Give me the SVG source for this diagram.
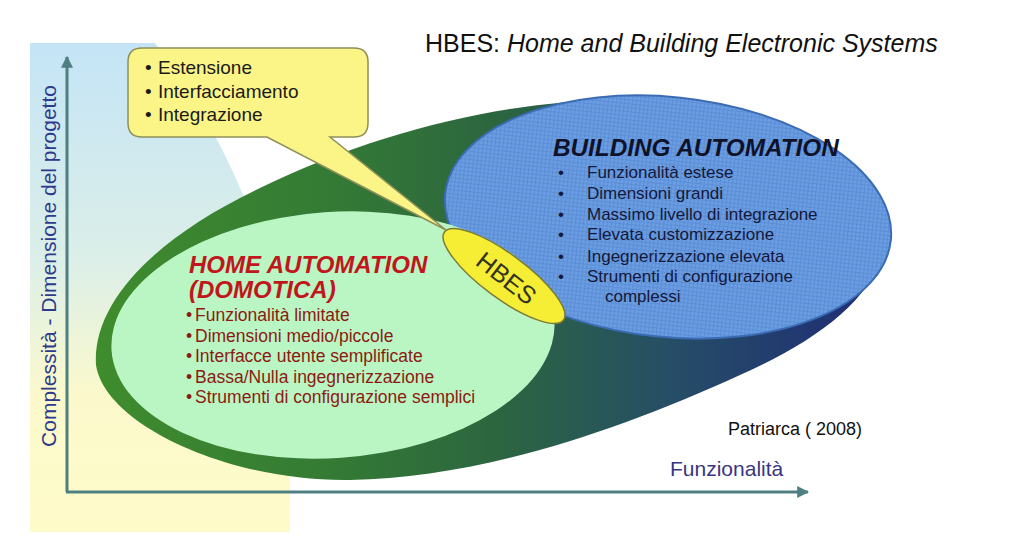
<svg xmlns="http://www.w3.org/2000/svg" width="1024" height="541" viewBox="0 0 1024 541">
<defs>
<style>
.sans{font-family:"Liberation Sans",Arial,sans-serif}
.ha{fill:#8c1a12;font-size:17.5px}
.ba{fill:#14183a;font-size:17px}
.co{fill:#1a1a1a;font-size:19px}
.axis{stroke:#4f7f80;stroke-width:3;fill:none}
</style>
<linearGradient id="panelGrad" x1="0" y1="43" x2="0" y2="532" gradientUnits="userSpaceOnUse">
<stop offset="0" stop-color="#c4e4f6"/>
<stop offset="0.45" stop-color="#dcefe8"/>
<stop offset="0.72" stop-color="#fbf9cc"/>
<stop offset="1" stop-color="#fffbc9"/>
</linearGradient>
<linearGradient id="outerGrad" x1="96" y1="0" x2="890" y2="0" gradientUnits="userSpaceOnUse">
<stop offset="0" stop-color="#3f8c2d"/>
<stop offset="0.3" stop-color="#347a35"/>
<stop offset="0.5" stop-color="#2c663f"/>
<stop offset="0.72" stop-color="#264e66"/>
<stop offset="1" stop-color="#1f2a78"/>
</linearGradient>
<pattern id="grid" width="4" height="4" patternUnits="userSpaceOnUse">
<rect width="4" height="4" fill="#6b9de2"/>
<path d="M0 0.5H4M0.5 0V4" stroke="#5c8ed6" stroke-width="1"/>
</pattern>
<marker id="arr" viewBox="0 0 10 10" refX="9" refY="5" markerWidth="4" markerHeight="4" orient="auto" markerUnits="strokeWidth">
<path d="M0 0L10 5L0 10Z" fill="#4f7f80"/>
</marker>
</defs>
<rect width="1024" height="541" fill="#ffffff"/>
<g id="panel">
<path d="M30 43H155Q240 150 290 330V532H30Z" fill="url(#panelGrad)"/>
</g>
<g id="connectors">
<path class="axis" d="M67 492V57" marker-end="url(#arr)"/>
<path class="axis" d="M66 492H808" marker-end="url(#arr)"/>
</g>
<g id="outer">
<path d="M96 365C92 300 160 235 260 188C380 130 510 100 620 100C740 100 880 150 885 230C888 290 820 340 740 375C620 430 480 478 350 480C230 482 105 425 96 365Z" fill="url(#outerGrad)"/>
</g>
<g id="building-automation">
<ellipse cx="668" cy="217" rx="224" ry="120" transform="rotate(6 668 217)" fill="url(#grid)" stroke="#3b6cb3" stroke-width="2"/>
<text class="sans" x="553" y="156" font-size="24.3" font-weight="bold" font-style="italic" fill="#0f1228">BUILDING AUTOMATION</text>
<g class="sans ba">
<text x="558" y="178">•</text><text x="587" y="178">Funzionalità estese</text>
<text x="558" y="199">•</text><text x="587" y="199">Dimensioni grandi</text>
<text x="558" y="220">•</text><text x="587" y="220">Massimo livello di integrazione</text>
<text x="558" y="240">•</text><text x="587" y="240">Elevata customizzazione</text>
<text x="558" y="262">•</text><text x="587" y="262">Ingegnerizzazione elevata</text>
<text x="558" y="282">•</text><text x="587" y="282">Strumenti di configurazione</text>
<text x="605" y="302">complessi</text>
</g>
</g>
<g id="home-automation">
<ellipse cx="333" cy="335" rx="222" ry="123" transform="rotate(-4 333 335)" fill="#baf6c3"/>
<text class="sans" x="189" y="273" font-size="24" font-weight="bold" font-style="italic" fill="#c0161c">HOME AUTOMATION</text>
<text class="sans" x="189" y="298" font-size="24" font-weight="bold" font-style="italic" fill="#c0161c">(DOMOTICA)</text>
<g class="sans ha">
<text x="186" y="321">•</text><text x="195" y="321">Funzionalità limitate</text>
<text x="186" y="342">•</text><text x="195" y="342">Dimensioni medio/piccole</text>
<text x="186" y="362">•</text><text x="195" y="362">Interfacce utente semplificate</text>
<text x="186" y="383">•</text><text x="195" y="383">Bassa/Nulla ingegnerizzazione</text>
<text x="186" y="403">•</text><text x="195" y="403">Strumenti di configurazione semplici</text>
</g>
</g>
<g id="callout">
<path d="M142 48H354Q368 48 368 62V123Q368 137 354 137H330L446 230L267 137H142Q128 137 128 123V62Q128 48 142 48Z" fill="#fbf587" stroke="#8f8f5a" stroke-width="1.5"/>
<g class="sans co">
<text x="145" y="74">•</text><text x="158" y="74">Estensione</text>
<text x="145" y="98">•</text><text x="158" y="98">Interfacciamento</text>
<text x="145" y="121">•</text><text x="158" y="121">Integrazione</text>
</g>
</g>
<g id="hbes">
<ellipse cx="504" cy="276" rx="74" ry="22" transform="rotate(36.5 504 276)" fill="#f6ee35" stroke="#7d7a34" stroke-width="1.5"/>
<text class="sans" x="0" y="0" font-size="25" fill="#333322" text-anchor="middle" transform="translate(501 285) rotate(38)">HBES</text>
</g>
<g id="labels">
<text class="sans" x="425" y="52" font-size="25" fill="#111">HBES: <tspan font-style="italic">Home and Building Electronic Systems</tspan></text>
<text class="sans" font-size="21" fill="#2e3a8a" text-anchor="middle" transform="translate(56 266) rotate(-90)">Complessità - Dimensione del progetto</text>
<text class="sans" x="670" y="476" font-size="21" fill="#3a3580">Funzionalità</text>
<text class="sans" x="728" y="435" font-size="18" fill="#111">Patriarca ( 2008)</text>
</g>
</svg>
